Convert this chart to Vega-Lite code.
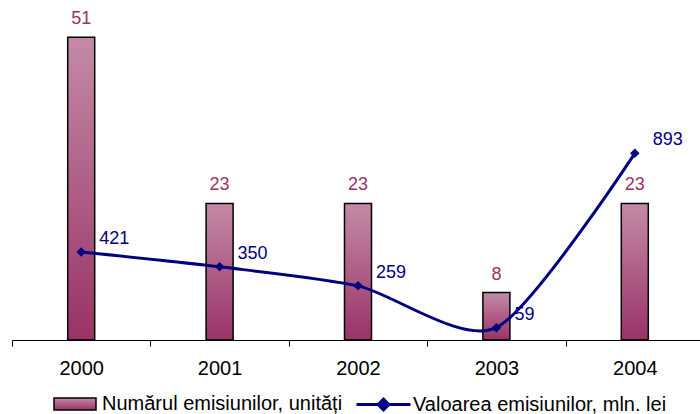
{
  "$schema": "https://vega.github.io/schema/vega-lite/v6.json",
  "autosize": "none",
  "width": 692,
  "height": 320,
  "padding": {"left": 12, "top": 20, "right": 0, "bottom": 74},
  "background": "white",
  "config": {
    "view": {"stroke": null},
    "font": "Liberation Sans",
    "legend": {"layout": {"bottom": {"anchor": "middle", "direction": "horizontal", "margin": 12}}}
  },
  "data": {
    "values": [
      {"year": "2000", "count": 51, "value": 421},
      {"year": "2001", "count": 23, "value": 350},
      {"year": "2002", "count": 23, "value": 259},
      {"year": "2003", "count": 8, "value": 59},
      {"year": "2004", "count": 23, "value": 893}
    ]
  },
  "encoding": {
    "x": {
      "field": "year", "type": "nominal",
      "scale": {"paddingInner": 0, "paddingOuter": 0},
      "axis": {
        "title": null, "labelAngle": 0, "tickBand": "extent",
        "domainColor": "black", "tickColor": "black", "domainWidth": 1, "tickWidth": 1, "tickSize": 6,
        "labelFontSize": 20, "labelColor": "black", "labelPadding": 12
      }
    }
  },
  "layer": [
    {
      "layer": [
        {
          "mark": {
            "type": "bar", "width": 27, "strokeWidth": 1.5,
            "color": {"gradient": "linear", "x1": 0, "y1": 0, "x2": 0, "y2": 1,
              "stops": [{"offset": 0, "color": "#c48aa8"}, {"offset": 1, "color": "#993366"}]}
          },
          "encoding": {
            "y": {"field": "count", "type": "quantitative", "scale": {"domain": [0, 53.9], "nice": false}, "axis": null},
            "stroke": {
              "datum": "Numărul emisiunilor, unități",
              "scale": {"range": ["black"]},
              "legend": {
                "title": null, "orient": "bottom", "offset": 16,
                "symbolType": "M-1,-1H6V1H-1Z", "symbolSize": 144,
                "symbolFillColor": "#b8709a", "symbolStrokeColor": "black", "symbolStrokeWidth": 1.5,
                "labelOffset": 32,
                "labelFontSize": 20, "labelColor": "black", "labelLimit": 400
              }
            }
          }
        },
        {
          "mark": {"type": "text", "dy": -18, "fontSize": 18, "color": "#993366", "baseline": "middle"},
          "encoding": {
            "y": {"field": "count", "type": "quantitative", "scale": {"domain": [0, 53.9], "nice": false}, "axis": null},
            "text": {"field": "count", "type": "quantitative"}
          }
        }
      ]
    },
    {
      "layer": [
        {
          "mark": {"type": "line", "interpolate": "cardinal", "tension": 0.25, "strokeWidth": 3},
          "encoding": {
            "y": {"field": "value", "type": "quantitative", "scale": {"domain": [0, 1531], "nice": false}, "axis": null},
            "stroke": {
              "datum": "Valoarea emisiunilor, mln. lei",
              "scale": {"range": ["#000080"]},
              "legend": {
                "title": null, "orient": "bottom", "offset": 16,
                "symbolType": "M-1,0H5M1.4,0L2,-0.6L2.6,0L2,0.6Z", "symbolSize": 324,
                "symbolFillColor": "#000080", "symbolStrokeColor": "#000080", "symbolStrokeWidth": 3,
                "labelOffset": 37,
                "labelFontSize": 20, "labelColor": "black", "labelLimit": 400
              }
            }
          }
        },
        {
          "mark": {"type": "point", "shape": "diamond", "filled": true, "size": 90, "color": "#000080", "opacity": 1},
          "encoding": {
            "y": {"field": "value", "type": "quantitative", "scale": {"domain": [0, 1531], "nice": false}, "axis": null}
          }
        },
        {
          "mark": {"type": "text", "dx": 18, "dy": -13, "align": "left", "baseline": "middle", "fontSize": 18, "color": "#000080"},
          "encoding": {
            "y": {"field": "value", "type": "quantitative", "scale": {"domain": [0, 1531], "nice": false}, "axis": null},
            "text": {"field": "value", "type": "quantitative"}
          }
        }
      ]
    }
  ],
  "resolve": {"scale": {"y": "independent", "stroke": "independent"}}
}
